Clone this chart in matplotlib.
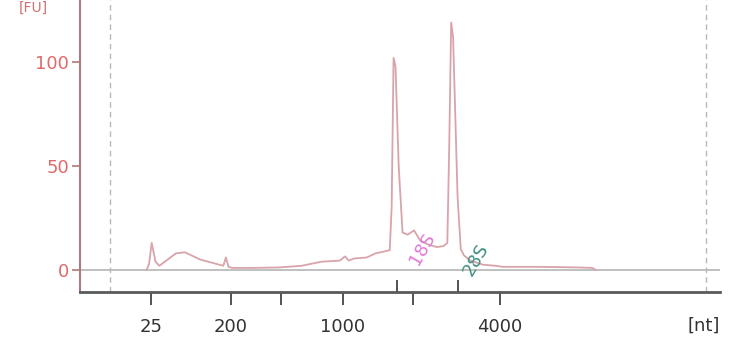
import matplotlib
matplotlib.use("Agg")
import matplotlib.pyplot as plt
import numpy as np

# migration time [s] and fluorescence [FU] of the electropherogram trace
time_s = [24.2, 24.4, 24.6, 24.9, 25.2, 26.5, 27.2, 28.4, 29.6, 30.2, 30.4, 30.6, 30.9,
          32.5, 34.5, 36.3, 37.9, 39.3, 39.7, 40.0, 40.4, 41.4, 42.1, 42.5, 43.2, 43.35, 43.5,
          43.65, 43.9, 44.2, 44.6, 45.1, 45.6, 46.3, 46.9, 47.4, 47.7, 47.85, 48.0, 48.15,
          48.5, 48.75, 49.0, 49.5, 50.5, 51.5, 52.0, 55.0, 58.0, 59.0, 59.3]
signal_fu = [0.0, 3.0, 13.0, 4.0, 2.0, 8.0, 8.5, 5.0, 3.0, 2.0, 6.0, 1.5, 1.0,
             1.0, 1.2, 2.0, 4.0, 4.5, 6.5, 4.5, 5.5, 6.0, 8.0, 8.5, 9.5, 30.0, 102.0,
             98.0, 50.0, 18.0, 17.0, 19.0, 14.0, 12.0, 11.0, 11.5, 13.0, 60.0, 119.0, 112.0,
             35.0, 10.0, 7.0, 4.5, 2.5, 2.0, 1.5, 1.5, 1.2, 1.0, 0.0]

tick_pos = [24.55, 30.8, 34.7, 39.55, 45.0, 51.8]
tick_lab = ["25", "200", "", "1000", "", "4000"]
marker_pos = [43.77, 48.5]
window = [21.34, 67.9]
peaks = ["18S", "28S"]
peak_pos = [45.7, 49.9]
peak_lab_y = [10.0, 5.0]
peak_colors = ["#e07ad8", "#3f8f80"]

fig = plt.figure(figsize=(7.44, 3.45), dpi=100)
ax = fig.add_axes([0.1075, 0.1536, 0.8602, 0.8464])

ax.axhline(0, color="#b5b5b5", lw=1.2, zorder=1)
for w in window:
    ax.axvline(w, color="#b8b8b8", lw=1, ls=(0, (4, 3)), zorder=1)

ax.plot(time_s, signal_fu, color="#d8a4aa", lw=1.3, zorder=3)

for name, xp, yp, c in zip(peaks, peak_pos, peak_lab_y, peak_colors):
    ax.text(xp, yp, name, color=c, fontsize=13, rotation=60,
            ha="center", va="center", zorder=4)

ax.set_xlim(19, 69)
ax.set_ylim(-10.6, 129.8)

ax.set_xticks(tick_pos)
ax.set_xticklabels(tick_lab)
ax.set_xticks(marker_pos, minor=True)
ax.tick_params(axis="x", which="major", direction="out", length=9, width=1.3,
               color="#444444", labelsize=13, labelcolor="#333333", pad=10)
ax.tick_params(axis="x", which="minor", direction="in", length=9, width=1.3,
               color="#444444")

ax.set_yticks([0, 50, 100])
ax.tick_params(axis="y", direction="out", length=6, width=1.2, color="#b07a7a",
               labelsize=13, labelcolor="#e06a6a", pad=2)

for s in ["top", "right"]:
    ax.spines[s].set_visible(False)
ax.spines["left"].set_color("#a87c7c")
ax.spines["left"].set_linewidth(1.5)
ax.spines["bottom"].set_color("#5a5a5a")
ax.spines["bottom"].set_linewidth(2)

fig.text(0.967, 0.055, "[nt]", fontsize=13, color="#333333", ha="right", va="center")
fig.text(0.045, 0.998, "[FU]", fontsize=10, color="#d07070", ha="center", va="top")

fig.savefig("out.png", dpi=100)
